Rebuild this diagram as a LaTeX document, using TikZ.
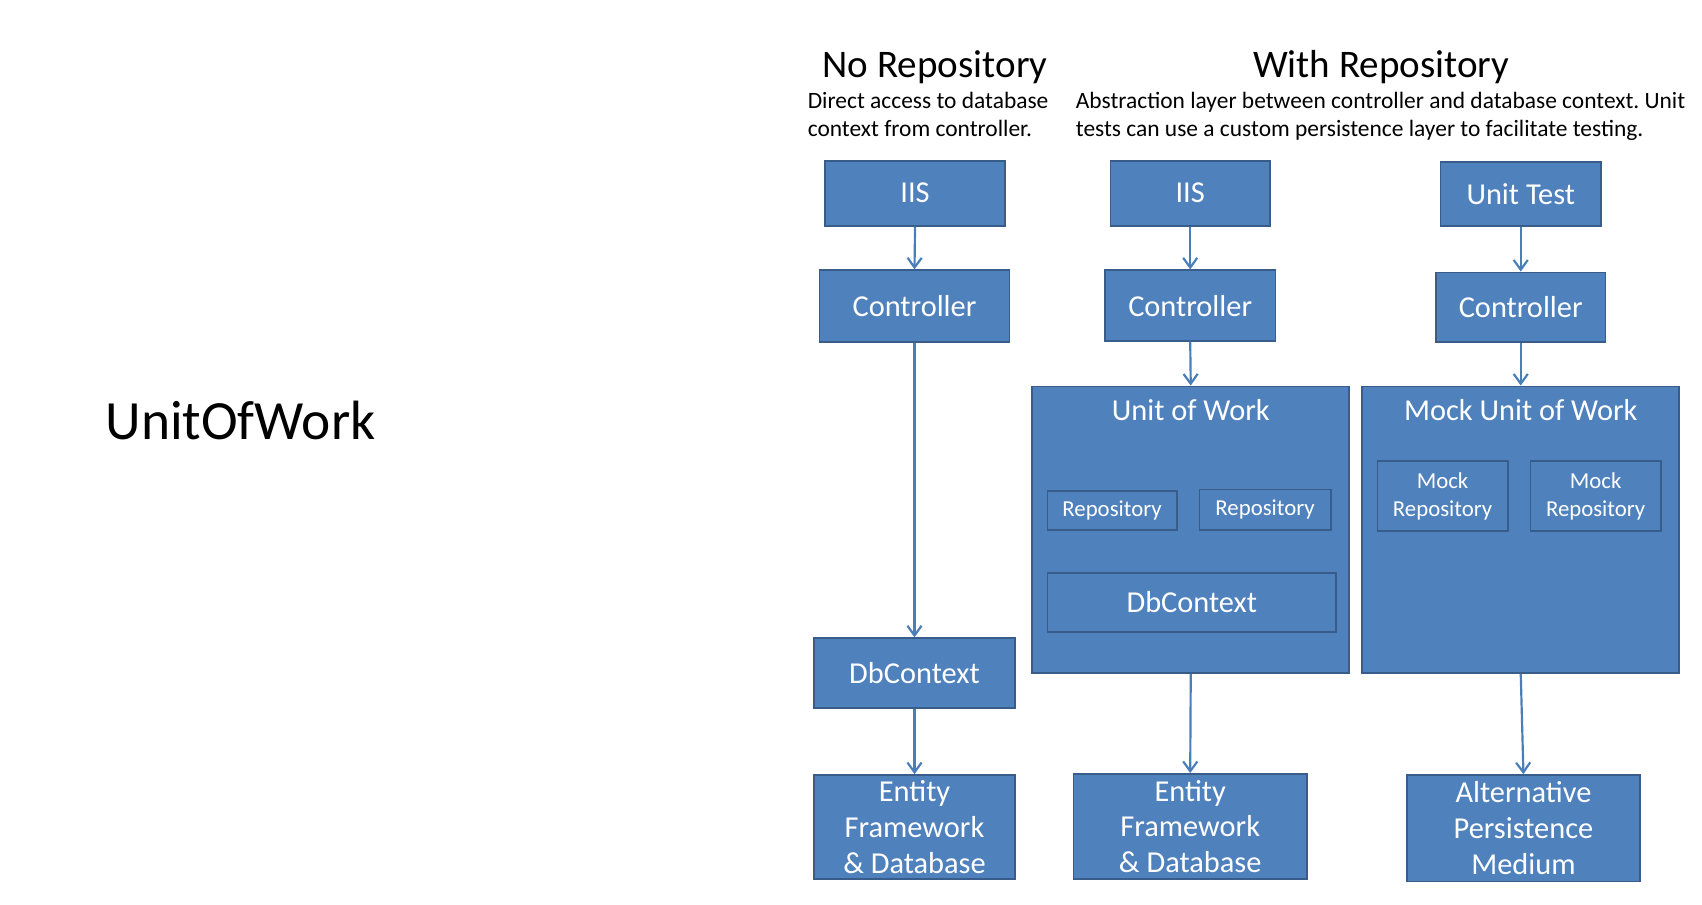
\documentclass[tikz,border=0pt]{standalone}
\usepackage{fontspec}
\setmainfont{Carlito}
\usetikzlibrary{arrows.meta}
\definecolor{boxfill}{HTML}{4F81BD}
\definecolor{boxline}{HTML}{385D8A}
\definecolor{arrowc}{HTML}{4A7EBB}
\frenchspacing
\begin{document}
\begin{tikzpicture}[x=1pt,y=-1pt,
  blk/.style={draw=boxline, fill=boxfill, line width=1.6pt, text=white, inner sep=0pt, align=center, font=\fontsize{28}{33}\selectfont},
  sblk/.style={blk, font=\fontsize{21}{26}\selectfont},
  ttl/.style={text=white, inner sep=0pt, font=\fontsize{28}{33}\selectfont},
  sub/.style={anchor=base west, align=left, font=\fontsize{21.6}{26}\selectfont, inner sep=0pt},
  conn/.style={draw=arrowc, line width=2pt, -{Straight Barb[length=9pt,width=13pt,line width=2pt]}},
]
\useasboundingbox[fill=white] (0,0) rectangle (1568,833);

\node[anchor=base west, font=\fontsize{51}{60}\selectfont, inner sep=0pt] (main) at (97,405) {UnitOfWork};

\node[anchor=base, font=\fontsize{36}{43}\selectfont, inner sep=0pt] (t1) at (861.5,71) {No Repository};
\node[anchor=base, font=\fontsize{36}{43}\selectfont, inner sep=0pt] (t2) at (1272.5,71) {With Repository};
\node[sub] (sub1) at (744,126) {Direct access to database\\context from controller.};
\node[sub] (sub2) at (991,126) {Abstraction layer between controller and database context. Unit\\tests can use a custom persistence layer to facilitate testing.};

% column 1
\node[blk, minimum width=166, minimum height=60] (iis1) at (843,178) {IIS};
\node[blk, minimum width=175, minimum height=66] (ctrl1) at (842.5,282) {Controller};
\node[blk, minimum width=185, minimum height=64] (db1) at (842.5,620) {DbContext};
\node[blk, minimum width=185, minimum height=96] (ef1) at (842.5,762) {Entity\\Framework\\\& Database};

% column 2
\node[blk, minimum width=147, minimum height=60] (iis2) at (1096.5,178) {IIS};
\node[blk, minimum width=157, minimum height=65] (ctrl2) at (1096.5,281.5) {Controller};
\node[blk, minimum width=292, minimum height=264] (uow) at (1097,488) {};
\node[ttl] (uowt) at (1097,378) {Unit of Work};
\node[sblk, minimum width=119, minimum height=36] (repA) at (1024.5,470) {Repository};
\node[sblk, minimum width=121, minimum height=37] (repB) at (1165.5,469.5) {Repository};
\node[blk, minimum width=266, minimum height=54] (db2) at (1098,555) {DbContext};
\node[blk, minimum width=215, minimum height=97] (ef2) at (1096.5,761.5) {Entity\\Framework\\\& Database};

% column 3
\node[blk, minimum width=148, minimum height=59] (ut) at (1401,178.5) {Unit Test};
\node[blk, minimum width=156, minimum height=64] (ctrl3) at (1401,283) {Controller};
\node[blk, minimum width=292, minimum height=264] (muow) at (1401,488) {};
\node[ttl] (muowt) at (1401,378) {Mock Unit of Work};
\node[sblk, minimum width=120, minimum height=64] (mrA) at (1329,457) {Mock\\Repository};
\node[sblk, minimum width=120, minimum height=64] (mrB) at (1470,457) {Mock\\Repository};
\node[blk, minimum width=215, minimum height=98] (alt) at (1403.5,763) {Alternative\\Persistence\\Medium};

% connectors
\draw[conn] (iis1.south) -- (ctrl1.north);
\draw[conn] (ctrl1.south) -- (db1.north);
\draw[conn] (db1.south) -- (ef1.north);
\draw[conn] (iis2.south) -- (ctrl2.north);
\draw[conn] (ctrl2.south) -- (uow.north);
\draw[conn] (uow.south) -- (ef2.north);
\draw[conn] (ut.south) -- (ctrl3.north);
\draw[conn] (ctrl3.south) -- (muow.north);
\draw[conn] (muow.south) -- (alt.north);
\end{tikzpicture}
\end{document}
